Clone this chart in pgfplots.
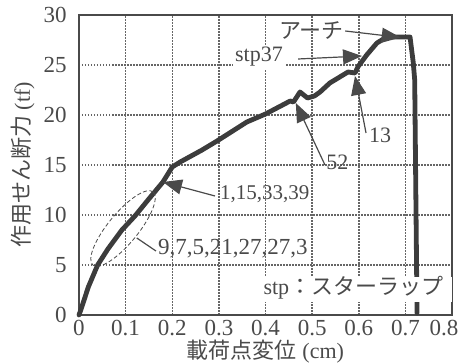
\documentclass[border=0pt]{standalone}
\usepackage{pgfplots}
\pgfplotsset{compat=1.18}
\usepackage{fontspec}
\setmainfont{Liberation Serif}
\newfontfamily\jp{Noto Sans CJK JP}
\usetikzlibrary{arrows.meta}
\definecolor{ink}{HTML}{3C3C3C}
\definecolor{txt}{HTML}{4A4A4A}
\definecolor{gridc}{HTML}{666666}

\begin{document}
\begin{tikzpicture}[font=\fontsize{11}{13}\selectfont]
\useasboundingbox (-39.5pt,-24pt) rectangle (190.5pt,157.5pt);
\begin{axis}[
  at={(0,0)}, anchor=south west, scale only axis,
  width=186.5pt, height=150pt,
  xmin=0, xmax=0.8, ymin=0, ymax=30,
  xtick={0,0.1,0.2,0.3,0.4,0.5,0.6,0.7,0.8},
  ytick={0,5,10,15,20,25,30},
  xticklabels={0,0.1,0.2,0.3,0.4,0.5,0.6,0.7,\hspace*{-8pt}0.8},
  grid=major,
  major grid style={gridc, line width=0.75pt, dash pattern=on 0.75pt off 0.75pt},
  major tick length=0pt,
  axis line style={txt, line width=0.9pt},
  tick label style={font=\fontsize{11.5}{13}\selectfont, text=txt},
  /pgf/number format/assume math mode=true,
  xticklabel style={anchor=north, inner sep=0pt, yshift=-2.5pt},
  yticklabel style={anchor=east, inner sep=0pt, xshift=-6pt},
  xlabel={{\jp 載荷点変位} (cm)},
  ylabel={{\jp 作用せん断力} (tf)},
  every axis x label/.style={at={(axis description cs:0.5,0)}, anchor=center, inner sep=0pt, yshift=-18.5pt, text=txt},
  every axis y label/.style={at={(axis description cs:0,0.5)}, xshift=-28pt, rotate=90, anchor=center, inner sep=0pt, text=txt},
  clip=false,
]
% load--displacement curve
\addplot[ink, line width=2.4pt, line join=round, line cap=round] coordinates {
  (0,0) (0.006,0.8) (0.02,2.8) (0.04,5.0) (0.062,6.6) (0.092,8.5)
  (0.12,9.9) (0.148,11.5) (0.18,13.3) (0.2,14.8) (0.217,15.3)
  (0.264,16.5) (0.296,17.4) (0.36,19.3) (0.40,20.1) (0.453,21.4)
  (0.46,21.3) (0.474,22.3) (0.49,21.7) (0.505,21.9) (0.517,22.3)
  (0.538,23.2) (0.577,24.3) (0.592,24.2) (0.598,24.8) (0.617,26.0)
  (0.639,27.2) (0.66,27.8) (0.71,27.8) (0.717,25.2) (0.72,23.5)
  (0.725,0.2)
};
\coordinate (E) at (axis cs:0.0944,8.65);

% callouts
\tikzset{callout/.style={txt, line width=0.6pt, -{Triangle[length=9.5pt,width=7.5pt]}}}
\draw[callout] (axis cs:0.571,28.4) -- (axis cs:0.69,27.75);
\draw[callout] (axis cs:0.47,25.6) -- (axis cs:0.607,25.9);
\draw[callout] (axis cs:0.6156,18.2) -- (axis cs:0.592,23.9);
\draw[callout] (axis cs:0.5276,15.0) -- (axis cs:0.465,21.2);
\draw[callout] (axis cs:0.2917,11.9) -- (axis cs:0.18,13.3);
\draw[txt, line width=0.6pt] (axis cs:0.124,7.7) -- (axis cs:0.165,6.4);

\node[text=txt, anchor=center] at (axis cs:0.4987,28.45) {\jp アーチ};
\node[text=txt, anchor=base, fill=white, inner sep=1pt] at (axis cs:0.386,25.3) {stp37};
\node[text=txt, anchor=base] at (axis cs:0.646,17.2) {13};
\node[text=txt, anchor=base] at (axis cs:0.554,14.5) {52};
\node[text=txt, anchor=base west, inner sep=0pt, font=\fontsize{10.5}{12}\selectfont] at (axis cs:0.302,11.5) {1,15,33,39};
\node[text=txt, anchor=base west, inner sep=0pt, font=\fontsize{11.5}{13}\selectfont] at (axis cs:0.169,6.0) {9,7,5,21,27,27,3};

\fill[white] (axis cs:0.387,1.3) rectangle (axis cs:0.8,3.8);
\node[text=txt, anchor=base west, inner sep=0pt] at (axis cs:0.395,2.0) {stp{\jp ：スターラップ}};
\end{axis}
\draw[txt, line width=0.4pt, dash pattern=on 2pt off 1.2pt, rotate around={50.6:(E)}] (E) ellipse [x radius=23.7pt, y radius=7.5pt];
\end{tikzpicture}
\end{document}
